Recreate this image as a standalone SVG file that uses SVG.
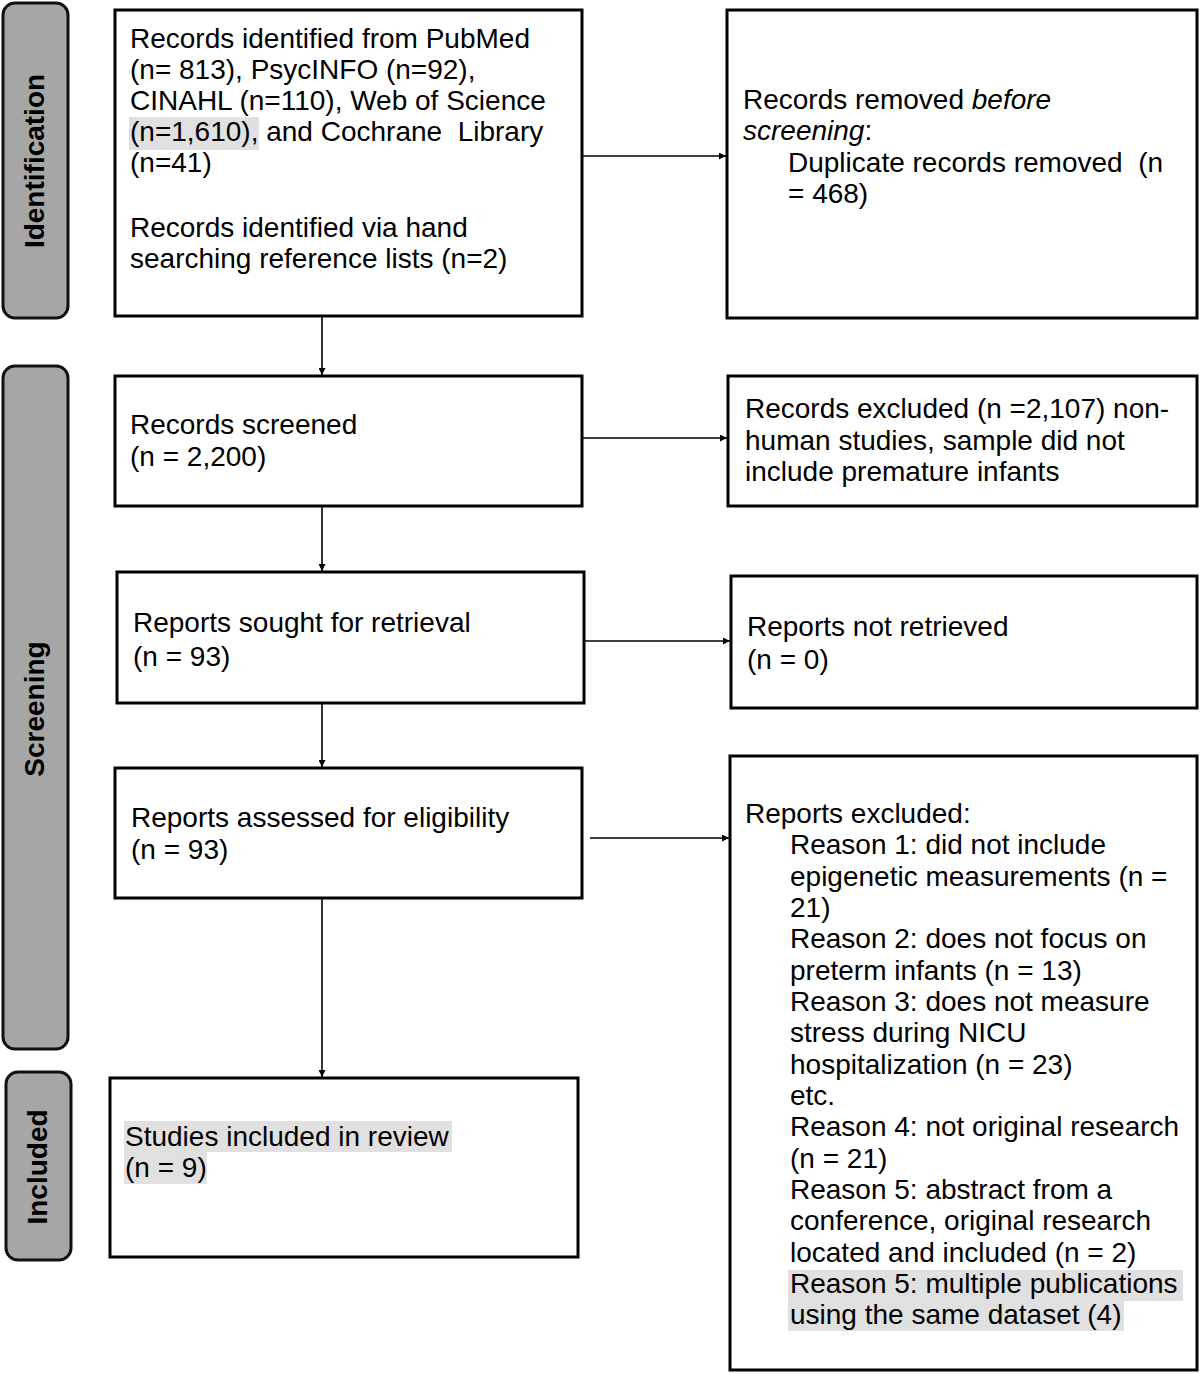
<svg xmlns="http://www.w3.org/2000/svg" width="1200" height="1374" viewBox="0 0 1200 1374">
<defs>
<marker id="ah" viewBox="0 0 10 10" refX="10" refY="5" markerWidth="8" markerHeight="7" markerUnits="userSpaceOnUse" orient="auto">
<path d="M0,0 L10,5 L0,10 z" fill="#000"/>
</marker>
<style>
.box{fill:#fff;stroke:#000;stroke-width:3}
.side{fill:#a6a6a6;stroke:#111;stroke-width:3}
.t{font-family:"Liberation Sans",Arial,sans-serif;font-size:28px;fill:#000;white-space:pre}
.s{font-family:"Liberation Sans",Arial,sans-serif;font-size:28px;font-weight:bold;fill:#000}
.hl{fill:#e0e0e0}
.c{stroke:#000;stroke-width:1.6;fill:none;marker-end:url(#ah)}
</style>
</defs>
<rect width="1200" height="1374" fill="#fff"/>

<g id="side-identification">
<rect class="side" x="3" y="3" width="65" height="315" rx="12"/>
<text class="s" transform="translate(44,161) rotate(-90)" text-anchor="middle">Identification</text>
</g>
<g id="side-screening">
<rect class="side" x="3" y="366" width="65" height="683" rx="12"/>
<text class="s" transform="translate(44,709) rotate(-90)" text-anchor="middle">Screening</text>
</g>
<g id="side-included">
<rect class="side" x="6" y="1072" width="65" height="188" rx="12"/>
<text class="s" transform="translate(47,1167) rotate(-90)" text-anchor="middle">Included</text>
</g>

<g id="connectors">
<line class="c" x1="582" y1="156" x2="726" y2="156"/>
<line class="c" x1="582" y1="438" x2="727" y2="438"/>
<line class="c" x1="584" y1="641" x2="730" y2="641"/>
<line class="c" x1="590" y1="838" x2="729" y2="838"/>
<line class="c" x1="322" y1="307" x2="322" y2="375"/>
<line class="c" x1="322" y1="506" x2="322" y2="571"/>
<line class="c" x1="322" y1="703" x2="322" y2="767"/>
<line class="c" x1="322" y1="898" x2="322" y2="1077"/>
</g>

<g id="records-identified">
<rect class="box" x="115" y="10" width="467" height="306"/>
<rect class="hl" x="129" y="117" width="130" height="33"/>
<text class="t" x="130" y="48">Records identified from PubMed</text>
<text class="t" x="130" y="79">(n= 813), PsycINFO (n=92),</text>
<text class="t" x="130" y="110">CINAHL (n=110), Web of Science</text>
<text class="t" x="130" y="141">(n=1,610), and Cochrane  Library</text>
<text class="t" x="130" y="172">(n=41)</text>
<text class="t" x="130" y="237">Records identified via hand</text>
<text class="t" x="130" y="268">searching reference lists (n=2)</text>
</g>

<g id="records-removed">
<rect class="box" x="727" y="10" width="470" height="308"/>
<text class="t" x="743" y="109">Records removed <tspan font-style="italic">before</tspan></text>
<text class="t" x="743" y="140"><tspan font-style="italic">screening</tspan>:</text>
<text class="t" x="788" y="172">Duplicate records removed  (n</text>
<text class="t" x="788" y="203">= 468)</text>
</g>

<g id="records-screened">
<rect class="box" x="115" y="376" width="467" height="130"/>
<text class="t" x="130" y="434">Records screened</text>
<text class="t" x="130" y="466">(n = 2,200)</text>
</g>

<g id="records-excluded">
<rect class="box" x="728" y="376" width="469" height="130"/>
<text class="t" x="745" y="418">Records excluded (n =2,107) non-</text>
<text class="t" x="745" y="450">human studies, sample did not</text>
<text class="t" x="745" y="481">include premature infants</text>
</g>

<g id="reports-sought">
<rect class="box" x="117" y="572" width="467" height="131"/>
<text class="t" x="133" y="632">Reports sought for retrieval</text>
<text class="t" x="133" y="666">(n = 93)</text>
</g>

<g id="reports-not-retrieved">
<rect class="box" x="731" y="576" width="466" height="132"/>
<text class="t" x="747" y="636">Reports not retrieved</text>
<text class="t" x="747" y="669">(n = 0)</text>
</g>

<g id="reports-assessed">
<rect class="box" x="115" y="768" width="467" height="130"/>
<text class="t" x="131" y="827">Reports assessed for eligibility</text>
<text class="t" x="131" y="859">(n = 93)</text>
</g>

<g id="reports-excluded">
<rect class="box" x="730" y="756" width="467" height="614"/>
<rect class="hl" x="788" y="1270" width="395" height="31"/>
<rect class="hl" x="788" y="1301" width="336" height="30"/>
<text class="t" x="745" y="823">Reports excluded:</text>
<text class="t" x="790" y="854">Reason 1: did not include</text>
<text class="t" x="790" y="886">epigenetic measurements (n =</text>
<text class="t" x="790" y="917">21)</text>
<text class="t" x="790" y="948">Reason 2: does not focus on</text>
<text class="t" x="790" y="980">preterm infants (n = 13)</text>
<text class="t" x="790" y="1011">Reason 3: does not measure</text>
<text class="t" x="790" y="1042">stress during NICU</text>
<text class="t" x="790" y="1074">hospitalization (n = 23)</text>
<text class="t" x="790" y="1105">etc.</text>
<text class="t" x="790" y="1136">Reason 4: not original research</text>
<text class="t" x="790" y="1168">(n = 21)</text>
<text class="t" x="790" y="1199">Reason 5: abstract from a</text>
<text class="t" x="790" y="1230">conference, original research</text>
<text class="t" x="790" y="1262">located and included (n = 2)</text>
<text class="t" x="790" y="1293">Reason 5: multiple publications</text>
<text class="t" x="790" y="1324">using the same dataset (4)</text>
</g>

<g id="studies-included">
<rect class="box" x="110" y="1078" width="468" height="179"/>
<rect class="hl" x="124" y="1121" width="328" height="31"/>
<rect class="hl" x="124" y="1152" width="83" height="32"/>
<text class="t" x="125" y="1146">Studies included in review</text>
<text class="t" x="125" y="1177">(n = 9)</text>
</g>
</svg>
